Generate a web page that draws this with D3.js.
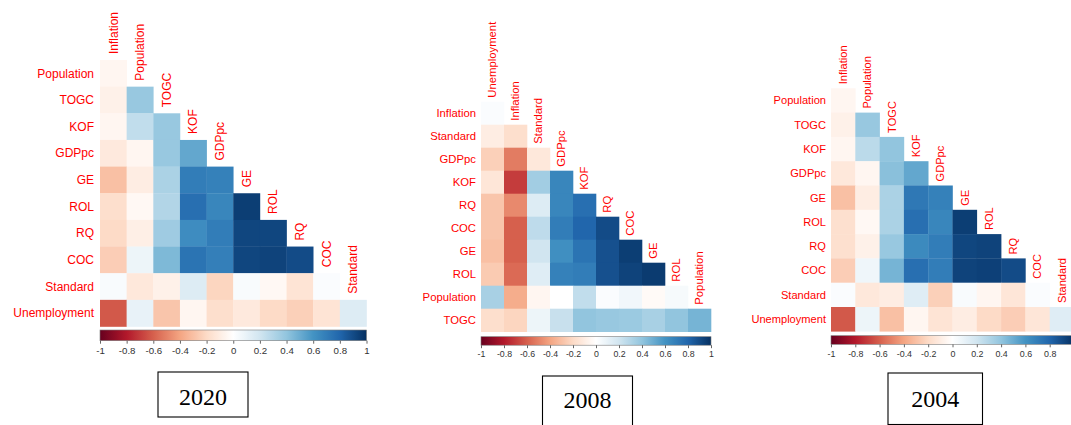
<!DOCTYPE html>
<html>
<head>
<meta charset="utf-8">
<script src="https://cdn.jsdelivr.net/npm/d3@7"></script>
<style>
  html, body { margin: 0; padding: 0; background: #fff; }
  svg { display: block; }
</style>
</head>
<body>
<svg id="chart" width="1071" height="425"></svg>
<script>
// ---- Data: lower-triangle correlation matrices (row i holds correlations with the first i+1 variables) ----
const vars2020 = ["Inflation", "Population", "TOGC", "KOF", "GDPpc", "GE", "ROL", "RQ", "COC", "Standard", "Unemployment"];
const corr2020 = [
  [-0.05],
  [-0.08, 0.38],
  [-0.05, 0.25, 0.38],
  [-0.12, -0.05, 0.38, 0.52],
  [-0.30, -0.10, 0.32, 0.70, 0.68],
  [-0.18, -0.04, 0.30, 0.76, 0.66, 0.95],
  [-0.20, -0.09, 0.36, 0.63, 0.70, 0.92, 0.92],
  [-0.25, 0.08, 0.45, 0.74, 0.69, 0.92, 0.93, 0.90],
  [0.03, -0.13, -0.08, 0.15, -0.22, 0.03, -0.04, -0.15, 0.02],
  [-0.62, 0.10, -0.28, -0.05, -0.18, -0.12, -0.20, -0.24, -0.15, 0.15]
];

const vars2008 = ["Unemployment", "Inflation", "Standard", "GDPpc", "KOF", "RQ", "COC", "GE", "ROL", "Population", "TOGC"];
const corr2008 = [
  [0.02],
  [-0.10, -0.18],
  [-0.24, -0.52, -0.13],
  [-0.14, -0.70, 0.35, 0.66],
  [-0.28, -0.48, 0.15, 0.66, 0.76],
  [-0.28, -0.60, 0.26, 0.70, 0.80, 0.90],
  [-0.30, -0.60, 0.20, 0.62, 0.74, 0.88, 0.95],
  [-0.26, -0.57, 0.14, 0.68, 0.70, 0.88, 0.93, 0.96],
  [0.33, -0.37, -0.05, 0.00, 0.25, 0.02, 0.06, -0.03, 0.04],
  [-0.18, -0.22, 0.08, 0.23, 0.40, 0.38, 0.37, 0.33, 0.40, 0.47]
];

const vars2004 = ["Inflation", "Population", "TOGC", "KOF", "GDPpc", "GE", "ROL", "RQ", "COC", "Standard", "Unemployment"];
const corr2004 = [
  [-0.05],
  [-0.08, 0.38],
  [-0.05, 0.27, 0.40],
  [-0.13, -0.05, 0.42, 0.52],
  [-0.30, -0.10, 0.32, 0.72, 0.68],
  [-0.17, -0.04, 0.32, 0.76, 0.66, 0.95],
  [-0.17, -0.08, 0.38, 0.64, 0.70, 0.92, 0.93],
  [-0.25, 0.07, 0.47, 0.76, 0.70, 0.93, 0.94, 0.90],
  [0.02, -0.13, -0.10, 0.14, -0.24, 0.03, -0.05, -0.14, 0.02],
  [-0.62, 0.08, -0.30, -0.05, -0.15, -0.10, -0.20, -0.25, -0.14, 0.14]
];

const legendTicks = [-1, -0.8, -0.6, -0.4, -0.2, 0, 0.2, 0.4, 0.6, 0.8, 1];
const yearLabels = ["2020", "2008", "2004"];

// Diverging red-white-blue palette
const paletteStops = ["#67001F", "#B2182B", "#D6604D", "#F4A582", "#FDDBC7", "#FFFFFF",
                      "#D1E5F0", "#92C5DE", "#4393C3", "#2166AC", "#053061"];
const color = d3.scaleLinear()
  .domain(d3.range(11).map(i => -1 + i * 0.2))
  .range(paletteStops)
  .interpolate(d3.interpolateRgb);

const svg = d3.select("#chart");
const svgWidth = +svg.attr("width");
const defs = svg.append("defs");

// shared colour-bar gradient
const grad = defs.append("linearGradient").attr("id", "corrGrad")
  .attr("x1", "0%").attr("x2", "100%").attr("y1", "0%").attr("y2", "0%");
d3.range(0, 101).forEach(i => {
  const v = -1 + 2 * i / 100;
  grad.append("stop").attr("offset", i + "%").attr("stop-color", color(v));
});

const fmtTick = d => (d < 0 ? "-" : "") + String(+Math.abs(d).toFixed(1));

function drawPanel(vars, corr, year, g) {
  const n = vars.length - 1;
  const root = svg.append("g");

  const x = d3.scaleBand().domain(vars.slice(0, n)).range([g.left, g.left + n * g.cell]);
  const y = d3.scaleBand().domain(vars.slice(1)).range([g.top, g.top + n * g.cell]);

  // cells
  const cells = [];
  corr.forEach((row, i) => row.forEach((v, j) => cells.push({ r: vars[i + 1], c: vars[j], v })));
  root.append("g").selectAll("rect").data(cells).join("rect")
    .attr("x", d => x(d.c))
    .attr("y", d => y(d.r))
    .attr("width", x.bandwidth() + 0.3)
    .attr("height", y.bandwidth() + 0.3)
    .attr("fill", d => color(d.v));

  // row labels
  root.append("g").selectAll("text").data(vars.slice(1)).join("text")
    .attr("x", g.left - g.labelGap)
    .attr("y", d => y(d) + y.bandwidth() / 2)
    .attr("dy", "0.35em")
    .attr("text-anchor", "end")
    .attr("font-family", "Liberation Sans, Arial, sans-serif")
    .attr("font-size", g.font)
    .attr("fill", "#FF0000")
    .text(d => d);

  // column labels (rotated, sitting just above each column's first cell)
  root.append("g").selectAll("text").data(vars.slice(0, n)).join("text")
    .attr("transform", (d, j) => {
      const cx = x(d) + x.bandwidth() / 2;
      const by = g.top + j * g.cell - g.colGap;
      return `translate(${cx},${by}) rotate(-90)`;
    })
    .attr("dy", "0.35em")
    .attr("text-anchor", "start")
    .attr("font-family", "Liberation Sans, Arial, sans-serif")
    .attr("font-size", g.font)
    .attr("fill", "#FF0000")
    .text(d => d);

  // colour bar
  const barW = n * g.cell;
  const lx = d3.scaleLinear().domain([-1, 1]).range([g.left, g.left + barW]);
  root.append("rect")
    .attr("x", g.left).attr("y", g.barTop)
    .attr("width", barW).attr("height", g.barH)
    .attr("fill", "url(#corrGrad)")
    .attr("stroke", "#7a7a7a").attr("stroke-width", 0.6);
  // only ticks that land inside the drawing area
  const visibleTicks = legendTicks.filter(t => lx(t) <= svgWidth - 4);
  const axis = d3.axisBottom(lx).tickValues(visibleTicks)
    .tickFormat(fmtTick)
    .tickSize(3).tickPadding(3);
  const ax = root.append("g").attr("transform", `translate(0,${g.barTop + g.barH})`).call(axis);
  ax.select(".domain").remove();
  ax.selectAll(".tick line").attr("stroke", "#666");
  ax.selectAll(".tick text")
    .attr("font-family", "Liberation Sans, Arial, sans-serif")
    .attr("font-size", g.tickFont)
    .attr("fill", "#333");

  // year box
  root.append("rect")
    .attr("x", g.boxX).attr("y", g.boxY)
    .attr("width", g.boxW).attr("height", g.boxH)
    .attr("fill", "#fff").attr("stroke", "#000").attr("stroke-width", 1.1);
  root.append("text")
    .attr("x", g.boxX + g.boxW / 2).attr("y", g.textY)
    .attr("text-anchor", "middle")
    .attr("font-family", "Liberation Serif, Times New Roman, serif")
    .attr("font-size", 24)
    .attr("fill", "#000")
    .text(year);
}

drawPanel(vars2020, corr2020, yearLabels[0], {
  left: 100, top: 60, cell: 26.65, font: 12, labelGap: 6, colGap: 6,
  barTop: 330, barH: 10.7, tickFont: 9.7,
  boxX: 158, boxY: 372, boxW: 90, boxH: 45, textY: 405
});
drawPanel(vars2008, corr2008, yearLabels[1], {
  left: 481, top: 101.7, cell: 23.0, font: 11.3, labelGap: 5, colGap: 4,
  barTop: 336.7, barH: 8.5, tickFont: 8.8,
  boxX: 542.5, boxY: 376, boxW: 90, boxH: 52, textY: 408.3
});
drawPanel(vars2004, corr2004, yearLabels[2], {
  left: 831, top: 88.3, cell: 24.3, font: 11.1, labelGap: 5, colGap: 4,
  barTop: 335.7, barH: 8.6, tickFont: 8.9,
  boxX: 888, boxY: 373, boxW: 94.5, boxH: 51.5, textY: 406.7
});
</script>
</body>
</html>
